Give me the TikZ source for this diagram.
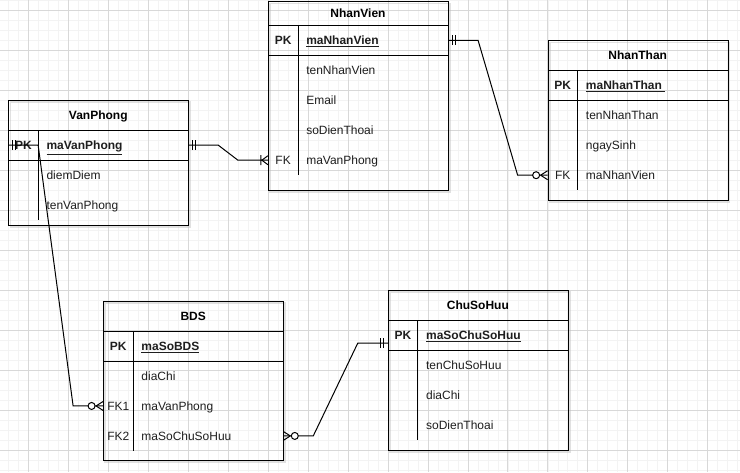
\documentclass[tikz,border=0pt]{standalone}
\usepackage{fontspec}
\setmainfont{Liberation Sans}
\definecolor{gridminor}{HTML}{F3F3F3}
\definecolor{gridmajor}{HTML}{D8D8D8}
\definecolor{ink}{HTML}{1E1E1E}
\definecolor{dropgray}{HTML}{BDBDBD}

% one attribute row: name, table left, centre y, key label, field
\newcommand\ertrow[5]{%
  \node[rowbox] (#1) at (#2+90,#3) {};
  \node[keytext] (#1-k) at (#2+15,#3) {#4};
  \node[fieldtext] (#1-f) at (#2+38,#3) {#5};
}
% table frame: name, left, top, header height, bottom, key-bar bottom, title
\newcommand\erttable[7]{%
  \draw[dropshadow] (#2+2,#3+2) rectangle (#2+182,#5+2);
  \node[tbl, minimum height=#5-#3] (#1) at (#2,#3) {};
  \node[ttl] (#1-t) at (#2+90,#3+#4/2) {#7};
  \draw[rule] (#2,#3+#4) -- (#2+180,#3+#4);
  \draw[rule] (#2,#3+#4+30) -- (#2+180,#3+#4+30);
  \draw[rule] (#2+30,#3+#4) -- (#2+30,#6);
}

\begin{document}
\begin{tikzpicture}[x=1pt,y=-1pt,
  font=\fontsize{12}{14}\selectfont,
  tbl/.style={draw=black, line width=1pt, inner sep=0pt, anchor=north west, minimum width=180pt},
  rule/.style={draw=black, line width=1pt},
  dropshadow/.style={draw=dropgray, line width=1.6pt, opacity=.45},
  ttl/.style={font=\fontsize{12}{14}\selectfont\bfseries, inner sep=0pt, text height=9.2pt, text depth=0pt},
  rowbox/.style={inner sep=0pt, minimum width=180pt, minimum height=30pt},
  keytext/.style={inner sep=0pt, text height=9.2pt, text depth=0pt, text=ink},
  fieldtext/.style={inner sep=0pt, text height=9.2pt, text depth=0pt, text=ink, anchor=west},
  link/.style={draw=black, line width=1pt},
  pics/mandone/.style={code={\draw[link] (4,-5) -- (4,5) (7,-5) -- (7,5);}},
  pics/onemany/.style={code={\draw[link] (7,-5) -- (7,5) (6,0) -- (0,-4.5) (6,0) -- (0,4.5);}},
  pics/zeromany/.style={code={\draw[link] (7,0) -- (0,-4.5) (7,0) -- (0,4.5);
      \draw[link, fill=white] (11.5,0) circle (3.5);}},
]
% background grid
\fill[white] (0,0) rectangle (740,472);
\foreach \gx in {8,18,...,738} \draw[gridminor, line width=.6pt] (\gx,0) -- (\gx,472);
\foreach \gy in {0,10,...,470} \draw[gridminor, line width=.6pt] (0,\gy) -- (740,\gy);
\foreach \gx in {28,68,...,708} \draw[gridmajor, line width=.8pt] (\gx,0) -- (\gx,472);
\foreach \gy in {10,50,...,450} \draw[gridmajor, line width=.8pt] (0,\gy) -- (740,\gy);
\useasboundingbox (0,0) rectangle (740,472);

% NhanVien
\erttable{nv}{268}{1}{24}{190}{175}{NhanVien}
\ertrow{nvPK}{268}{40}{\textbf{PK}}{\textbf{\underline{maNhanVien}}}
\ertrow{nvA}{268}{70}{}{tenNhanVien}
\ertrow{nvB}{268}{100}{}{Email}
\ertrow{nvC}{268}{130}{}{soDienThoai}
\ertrow{nvFK}{268}{160}{FK}{maVanPhong}

% VanPhong
\erttable{vp}{8}{100}{30}{225}{220}{VanPhong}
\ertrow{vpPK}{8}{145}{\textbf{PK}}{\textbf{\underline{maVanPhong}}}
\ertrow{vpA}{8}{175}{}{diemDiem}
\ertrow{vpB}{8}{205}{}{tenVanPhong}

% NhanThan
\erttable{nt}{548}{40}{30}{200}{190}{NhanThan}
\ertrow{ntPK}{548}{85}{\textbf{PK}}{\textbf{\underline{maNhanThan\ }}}
\ertrow{ntA}{548}{115}{}{tenNhanThan}
\ertrow{ntB}{548}{145}{}{ngaySinh}
\ertrow{ntFK}{548}{175}{FK}{maNhanVien}

% BDS
\erttable{bds}{103}{301}{30}{460}{451}{BDS}
\ertrow{bdsPK}{103}{346}{\textbf{PK}}{\textbf{\underline{maSoBDS}}}
\ertrow{bdsA}{103}{376}{}{diaChi}
\ertrow{bdsFK1}{103}{406}{FK1}{maVanPhong}
\ertrow{bdsFK2}{103}{436}{FK2}{maSoChuSoHuu}

% ChuSoHuu
\erttable{cs}{388}{290}{30}{450}{440}{ChuSoHuu}
\ertrow{csPK}{388}{335}{\textbf{PK}}{\textbf{\underline{maSoChuSoHuu}}}
\ertrow{csA}{388}{365}{}{tenChuSoHuu}
\ertrow{csB}{388}{395}{}{diaChi}
\ertrow{csC}{388}{425}{}{soDienThoai}
\coordinate (csIn) at ([yshift=-8pt]csPK.west);

% relationships
\draw[link] (vpPK.east) -- ++(30,0) -- ([xshift=-30pt]nvFK.west) -- (nvFK.west);
\pic at (vpPK.east) {mandone};
\pic[rotate=180] at (nvFK.west) {onemany};

\draw[link] (nvPK.east) -- ++(30,0) -- ([xshift=-30pt]ntFK.west) -- (ntFK.west);
\pic at (nvPK.east) {mandone};
\pic[rotate=180] at (ntFK.west) {zeromany};

\draw[link] (vpPK.west) -- ++(30,0) -- ([xshift=-30pt]bdsFK1.west) -- (bdsFK1.west);
\pic at (vpPK.west) {mandone};
\pic[rotate=180] at (bdsFK1.west) {zeromany};

\draw[link] (bdsFK2.east) -- ++(30,0) -- ([xshift=-30pt]csIn) -- (csIn);
\pic at (bdsFK2.east) {zeromany};
\pic[rotate=180] at (csIn) {mandone};
\end{tikzpicture}
\end{document}
